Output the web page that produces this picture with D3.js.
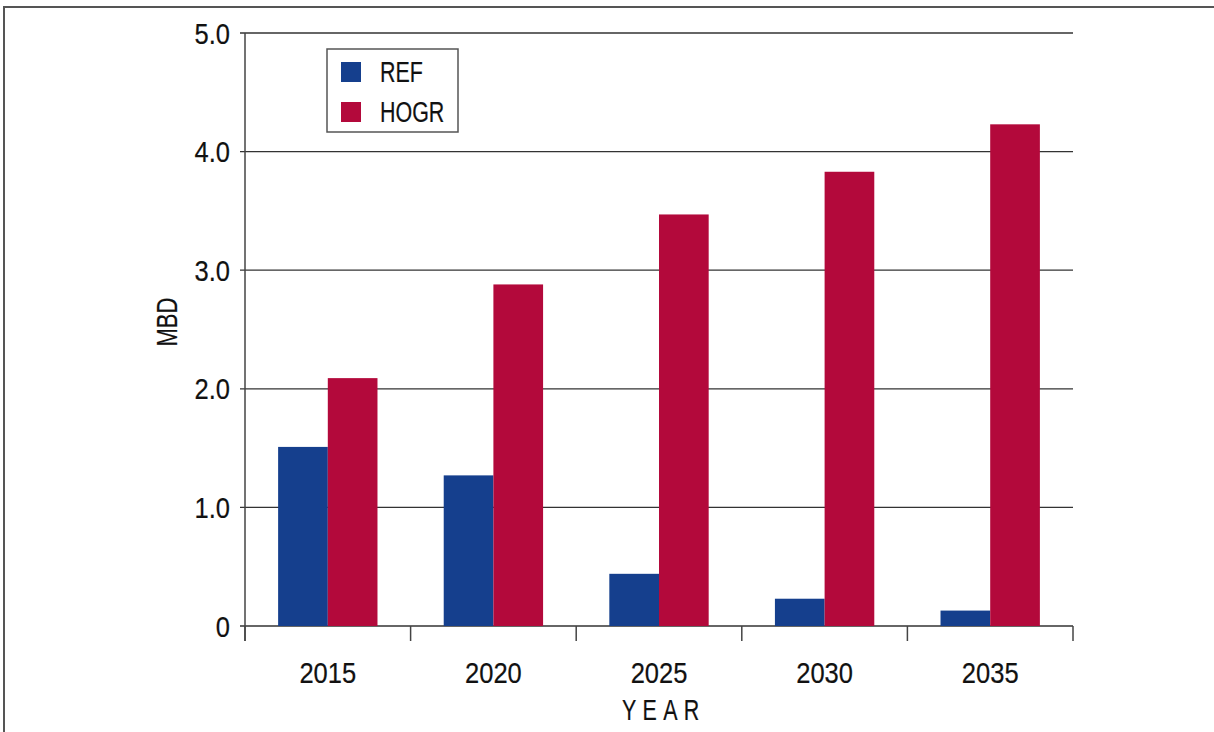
<!DOCTYPE html>
<html>
<head>
<meta charset="utf-8">
<script src="https://cdn.jsdelivr.net/npm/d3@7"></script>
<style>
  html, body { margin: 0; padding: 0; background: #fff; }
  svg { display: block; }
  text { font-family: "Liberation Sans", Arial, sans-serif; fill: #111; stroke: #111; stroke-width: 0.2px; }
</style>
</head>
<body>
<svg id="chart" width="1214" height="732"></svg>
<script>
// Oil production projections by scenario (million barrels per day)
const years = ["2015", "2020", "2025", "2030", "2035"];
const seriesNames = ["REF", "HOGR"];
const refValues = [1.51, 1.27, 0.44, 0.23, 0.13];
const hogrValues = [2.09, 2.88, 3.47, 3.83, 4.23];
const yTicks = [0, 1, 2, 3, 4, 5];
const seriesColors = ["#153f8d", "#b3093b"];

const FONT_SIZE = 29;
const NUM_SQUEEZE = 0.88;   // horizontal squeeze for numerals (condensed face)
const CAP_SQUEEZE = 0.74;   // horizontal squeeze for capital words

const svg = d3.select("#chart");
const plot = { left: 245, right: 1073, top: 33, bottom: 626 };

// Draws a horizontally condensed label anchored at (x, y)
function condensed(parent, x, y, str, sx, anchor, extra) {
  const g = parent.append("g").attr("transform", `translate(${x},${y}) scale(${sx},1)`);
  const t = g.append("text")
    .attr("text-anchor", anchor)
    .attr("font-size", FONT_SIZE)
    .text(str);
  if (extra) extra(t);
  return g;
}

// Outer frame
svg.append("rect")
  .attr("x", 4).attr("y", 7)
  .attr("width", 1240).attr("height", 760)
  .attr("fill", "none").attr("stroke", "#555").attr("stroke-width", 2);

const x = d3.scaleBand().domain(years).range([plot.left, plot.right]).padding(0);
const xInner = d3.scaleBand().domain(seriesNames)
  .range([x.bandwidth() * 0.2, x.bandwidth() * 0.8]).padding(0);
const y = d3.scaleLinear().domain([0, 5]).range([plot.bottom, plot.top]);
const color = d3.scaleOrdinal().domain(seriesNames).range(seriesColors);

// Horizontal gridlines
svg.append("g")
  .selectAll("line")
  .data(yTicks)
  .join("line")
  .attr("x1", plot.left - 5).attr("x2", plot.right)
  .attr("y1", d => y(d)).attr("y2", d => y(d))
  .attr("stroke", "#333").attr("stroke-width", 1.3);

// Bars
const rows = years.map((yr, i) => ({ year: yr, values: [
  { key: "REF", value: refValues[i] },
  { key: "HOGR", value: hogrValues[i] }
] }));

svg.append("g")
  .selectAll("g")
  .data(rows)
  .join("g")
  .attr("transform", d => `translate(${x(d.year)},0)`)
  .selectAll("rect")
  .data(d => d.values)
  .join("rect")
  .attr("x", d => xInner(d.key))
  .attr("width", xInner.bandwidth())
  .attr("y", d => y(d.value))
  .attr("height", d => y(0) - y(d.value))
  .attr("fill", d => color(d.key));

// Y axis line and tick labels
svg.append("line")
  .attr("x1", plot.left).attr("x2", plot.left)
  .attr("y1", plot.top).attr("y2", plot.bottom + 15)
  .attr("stroke", "#444").attr("stroke-width", 1.5);

const yFormat = d => d === 0 ? "0" : d3.format(".1f")(d);
const yLabels = svg.append("g");
yTicks.forEach(t => {
  condensed(yLabels, 230, y(t) + 10.5, yFormat(t), NUM_SQUEEZE, "end");
});

// X axis: category separator ticks and labels
const boundaries = years.map(d => x(d)).concat([plot.right]);
svg.append("g")
  .selectAll("line")
  .data(boundaries)
  .join("line")
  .attr("x1", d => d).attr("x2", d => d)
  .attr("y1", plot.bottom).attr("y2", plot.bottom + 15)
  .attr("stroke", "#444").attr("stroke-width", 1.5);

const xLabels = svg.append("g");
years.forEach(yr => {
  condensed(xLabels, x(yr) + x.bandwidth() / 2, 683, yr, NUM_SQUEEZE, "middle");
});

// Axis titles
condensed(svg, 622, 720, "YEAR", CAP_SQUEEZE, "start",
  t => t.attr("letter-spacing", "8.5px"));
svg.append("g")
  .attr("transform", "translate(177,322) rotate(-90)")
  .call(g => condensed(g, 0, 0, "MBD", 0.76, "middle"));

// Legend
const legend = svg.append("g");
legend.append("rect")
  .attr("x", 327).attr("y", 49).attr("width", 131).attr("height", 83)
  .attr("fill", "#fff").attr("stroke", "#555").attr("stroke-width", 1.5);
seriesNames.forEach((name, i) => {
  const rowY = 62 + i * 40;
  legend.append("rect")
    .attr("x", 341).attr("y", rowY)
    .attr("width", 20).attr("height", 20)
    .attr("fill", color(name));
  condensed(legend, 380, rowY + 20, name, CAP_SQUEEZE, "start");
});
</script>
</body>
</html>
